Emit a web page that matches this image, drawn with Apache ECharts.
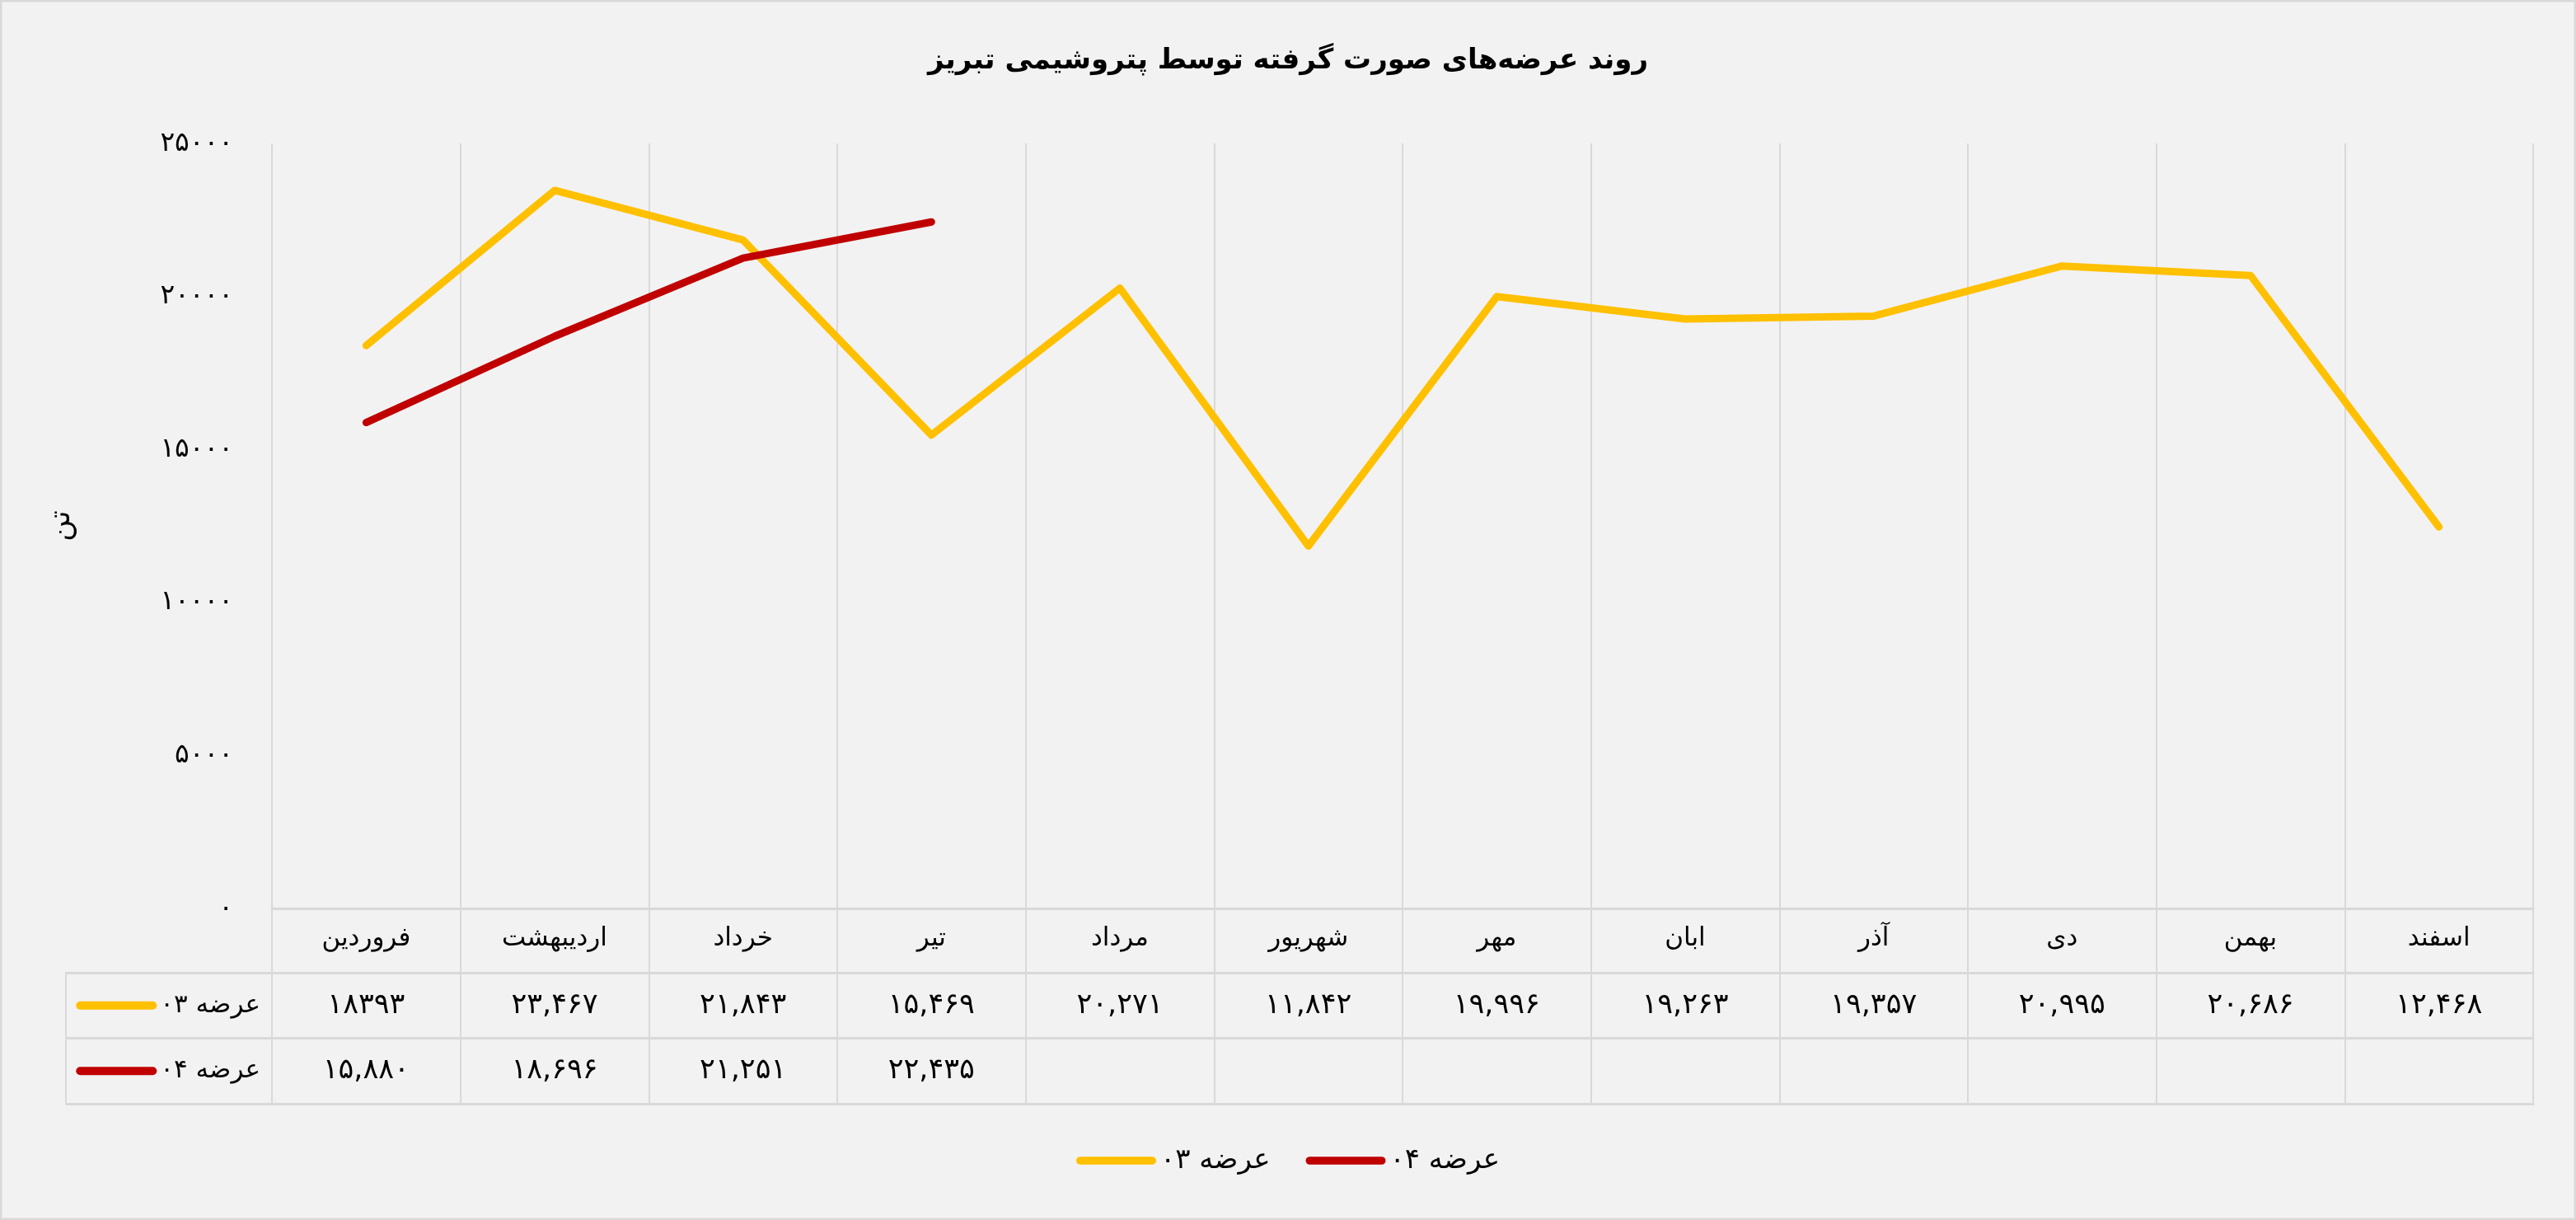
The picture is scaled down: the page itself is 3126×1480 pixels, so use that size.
<!DOCTYPE html>
<html lang="fa" style="height: 100%">
<head>
    <meta charset="UTF-8">
</head>
<body style="height: 100%; margin: 0; background: #f2f2f2">
  <div id="container" style="height: 100%"></div>

  <script type="text/javascript" src="https://fastly.jsdelivr.net/npm/echarts@6.0.0/dist/echarts.min.js"></script>
  <script type="text/javascript">
    var months = ['فروردین', 'اردیبهشت', 'خرداد', 'تیر', 'مرداد', 'شهریور', 'مهر', 'ابان', 'آذر', 'دی', 'بهمن', 'اسفند'];
    var seriesNames = ['عرضه ۰۳', 'عرضه ۰۴'];
    var values03 = [18393, 23467, 21843, 15469, 20271, 11842, 19996, 19263, 19357, 20995, 20686, 12468];
    var values04 = [15880, 18696, 21251, 22435];
    // cells of the 03 row printed without a thousands separator
    var plain03 = [0];
    var yTicks = [0, 5000, 10000, 15000, 20000, 25000];

    var FONT = 'DejaVu Sans';
    var GRID_LINE = '#d9d9d9';
    var colors = ['#ffc000', '#c00000'];

    function toFa(n, grouped) {
      var s = String(n);
      if (grouped) s = s.replace(/\B(?=(\d{3})+(?!\d))/g, ',');
      return s.replace(/\d/g, function (d) { return '۰۱۲۳۴۵۶۷۸۹'[+d]; });
    }

    var row03 = values03.map(function (v, i) { return toFa(v, plain03.indexOf(i) < 0); });
    var row04 = months.map(function (m, i) { return i < values04.length ? toFa(values04[i], true) : ''; });

    var dom = document.getElementById('container');
    var myChart = echarts.init(dom, null, { renderer: 'canvas' });

    function cellLabel(size, margin) {
      return {
        interval: 0,
        margin: margin,
        verticalAlign: 'middle',
        color: '#000',
        fontFamily: FONT,
        fontSize: size
      };
    }

    var keyRich = {
      t: { fontFamily: FONT, fontSize: 31, color: '#000', padding: [0, 0, 0, 4] }
    };
    colors.forEach(function (c, i) {
      keyRich['k' + i] = { width: 98, height: 10, backgroundColor: c, borderRadius: 5 };
    });

    var option = {
      backgroundColor: '#f2f2f2',
      animation: false,
      title: {
        text: 'روند عرضه\u200cهای صورت گرفته توسط پتروشیمی تبریز',
        left: 'center',
        top: 52,
        textStyle: { fontFamily: FONT, fontSize: 34, fontWeight: 'bold', color: '#000' }
      },
      legend: {
        data: seriesNames,
        left: 'center',
        top: 1386,
        itemWidth: 97,
        itemHeight: 10,
        itemGap: 43,
        icon: 'path://M5,0 L95,0 A5,5 0 0 1 95,10 L5,10 A5,5 0 0 1 5,0 Z',
        textStyle: { fontFamily: FONT, fontSize: 34, color: '#000' }
      },
      graphic: [{
        type: 'rect',
        silent: true,
        shape: { x: 1, y: 1, width: 3124, height: 1478 },
        style: { fill: 'none', stroke: GRID_LINE, lineWidth: 3 }
      }],
      grid: [
        { left: 330, right: 52, top: 174, bottom: 378, outerBoundsMode: 'none' },
        { left: 80, width: 250, top: 1180, height: 159, outerBoundsMode: 'none' }
      ],
      xAxis: [
        {
          type: 'category',
          gridIndex: 0,
          data: months,
          boundaryGap: true,
          axisLine: { show: true, lineStyle: { color: GRID_LINE, width: 3 } },
          axisTick: { show: true, interval: 0, length: 237, lineStyle: { color: GRID_LINE, width: 2 } },
          splitLine: { show: true, interval: 0, lineStyle: { color: GRID_LINE, width: 2 } },
          axisLabel: cellLabel(31, 37)
        },
        {
          type: 'category',
          gridIndex: 0,
          position: 'bottom',
          offset: 78,
          data: row03,
          axisLine: { show: true, lineStyle: { color: GRID_LINE, width: 3 } },
          axisTick: { show: false },
          splitLine: { show: false },
          axisLabel: cellLabel(35, 40)
        },
        {
          type: 'category',
          gridIndex: 0,
          position: 'bottom',
          offset: 157,
          data: row04,
          axisLine: { show: true, lineStyle: { color: GRID_LINE, width: 3 } },
          axisTick: { show: false },
          splitLine: { show: false },
          axisLabel: cellLabel(35, 40)
        },
        {
          type: 'category',
          gridIndex: 0,
          position: 'bottom',
          offset: 237,
          data: months,
          axisLine: { show: true, lineStyle: { color: GRID_LINE, width: 3 } },
          axisTick: { show: false },
          axisLabel: { show: false },
          splitLine: { show: false }
        },
        {
          type: 'value',
          gridIndex: 1,
          show: false
        }
      ],
      yAxis: [
        {
          type: 'value',
          gridIndex: 0,
          min: yTicks[0],
          max: yTicks[yTicks.length - 1],
          interval: yTicks[1] - yTicks[0],
          name: 'تن',
          nameLocation: 'middle',
          nameGap: 237,
          nameRotate: 90,
          nameTextStyle: { fontFamily: FONT, fontSize: 36, color: '#000' },
          axisLine: { show: false },
          axisTick: { show: false },
          splitLine: { show: false },
          axisLabel: {
            margin: 47,
            verticalAlign: 'middle',
            padding: [0, 0, 20, 0],
            color: '#000',
            fontFamily: FONT,
            fontSize: 33,
            formatter: function (v) { return toFa(v, false); }
          }
        },
        {
          type: 'category',
          gridIndex: 1,
          position: 'right',
          inverse: true,
          data: seriesNames,
          axisLine: { show: false },
          axisTick: { show: false },
          splitLine: { show: true, interval: 0, lineStyle: { color: GRID_LINE, width: 3 } },
          axisLabel: {
            inside: true,
            margin: 14,
            interval: 0,
            verticalAlign: 'middle',
            formatter: function (v, i) { return '{k' + i + '| }{t|' + v + '}'; },
            rich: keyRich
          }
        },
        {
          type: 'category',
          gridIndex: 1,
          position: 'left',
          inverse: true,
          data: seriesNames,
          axisLine: { show: true, lineStyle: { color: GRID_LINE, width: 2 } },
          axisTick: { show: false },
          axisLabel: { show: false },
          splitLine: { show: false }
        }
      ],
      series: [
        {
          name: seriesNames[0],
          type: 'line',
          xAxisIndex: 0,
          yAxisIndex: 0,
          data: values03,
          symbol: 'none',
          color: colors[0],
          lineStyle: { color: colors[0], width: 9, cap: 'round', join: 'round' }
        },
        {
          name: seriesNames[1],
          type: 'line',
          xAxisIndex: 0,
          yAxisIndex: 0,
          data: values04,
          symbol: 'none',
          color: colors[1],
          lineStyle: { color: colors[1], width: 9, cap: 'round', join: 'round' }
        }
      ]
    };

    myChart.setOption(option);
    window.addEventListener('resize', myChart.resize);
  </script>
</body>
</html>
